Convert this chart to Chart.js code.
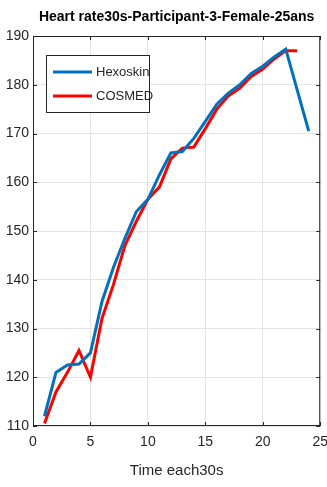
<!DOCTYPE html>
<html lang="en">
<head>
  <meta charset="UTF-8">
  <title>Heart rate chart</title>
  <script src="https://cdn.jsdelivr.net/npm/chart.js"></script>
  <style>
    html, body { margin: 0; padding: 0; background: #fff; overflow: hidden; }
    canvas { display: block; }
  </style>
</head>
<body>
  <canvas id="hrChart" width="336" height="487"></canvas>

  <script>
    // time steps (each 30 s)
    const timeHexo = [1, 2, 3, 4, 5, 6, 7, 8, 9, 10, 11, 12, 13, 14, 15, 16, 17, 18, 19, 20, 21, 22, 23, 24];
    const hexoskin = [112, 121, 122.5, 122.7, 125, 135.5, 142.5, 148.5, 154, 156.5, 161.5, 166, 166.3, 169, 172.5, 176, 178.3, 180, 182.3, 183.8, 185.7, 187.3, 178.9, 170.5];
    const timeCosmed = [1, 2, 3, 4, 5, 6, 7, 8, 9, 10, 11, 12, 13, 14, 15, 16, 17, 18, 19, 20, 21, 22, 23];
    const cosmed = [110.5, 117, 121, 125.5, 120, 132, 139, 147, 152, 156.5, 159, 164.8, 167, 167.2, 171, 175, 177.7, 179.3, 181.7, 183.2, 185.3, 187, 187];
    const xTicks = [0, 5, 10, 15, 20, 25];
    const yTicks = [110, 120, 130, 140, 150, 160, 170, 180, 190];
    const chartTitle = 'Heart rate30s-Participant-3-Female-25ans';

    const FONT = '"Liberation Sans", Arial, sans-serif';

    const toPoints = (xs, ys) => xs.map((x, i) => ({ x: x, y: ys[i] }));

    // box around the axes with inward ticks, like matlab, plus the title centred over the axes
    const boxPlugin = {
      id: 'box',
      afterDraw(chart) {
        const { ctx, chartArea: a, scales } = chart;
        ctx.save();
        ctx.strokeStyle = '#262626';
        ctx.lineWidth = 1;
        ctx.strokeRect(a.left + 0.5, a.top + 0.5, a.right - a.left - 1, a.bottom - a.top - 1);
        ctx.beginPath();
        xTicks.forEach(v => {
          const px = Math.round(scales.x.getPixelForValue(v)) + 0.5;
          ctx.moveTo(px, a.bottom); ctx.lineTo(px, a.bottom - 4);
          ctx.moveTo(px, a.top); ctx.lineTo(px, a.top + 4);
        });
        yTicks.forEach(v => {
          const py = Math.round(scales.y.getPixelForValue(v)) + 0.5;
          ctx.moveTo(a.left, py); ctx.lineTo(a.left + 4, py);
          ctx.moveTo(a.right, py); ctx.lineTo(a.right - 4, py);
        });
        ctx.stroke();

        ctx.fillStyle = '#000';
        ctx.font = 'bold 14px ' + FONT;
        ctx.textAlign = 'center';
        ctx.textBaseline = 'middle';
        ctx.fillText(chartTitle, (a.left + a.right) / 2, 17);
        ctx.restore();
      }
    };

    // legend box in the upper-left corner of the plot
    const legendPlugin = {
      id: 'boxLegend',
      afterDraw(chart) {
        const { ctx, chartArea: a } = chart;
        const x0 = a.left + 13, y0 = a.top + 19, w = 103, h = 57;
        ctx.save();
        ctx.fillStyle = '#fff';
        ctx.fillRect(x0, y0, w, h);
        ctx.strokeStyle = '#262626';
        ctx.lineWidth = 1;
        ctx.strokeRect(x0 + 0.5, y0 + 0.5, w, h);
        ctx.font = '13px ' + FONT;
        ctx.textBaseline = 'middle';
        chart.data.datasets.forEach((ds, i) => {
          const y = y0 + 17 + i * 24;
          ctx.strokeStyle = ds.borderColor;
          ctx.lineWidth = 3;
          ctx.beginPath();
          ctx.moveTo(x0 + 7, y); ctx.lineTo(x0 + 46, y);
          ctx.stroke();
          ctx.fillStyle = '#262626';
          ctx.fillText(ds.label, x0 + 50, y);
        });
        ctx.restore();
      }
    };

    new Chart(document.getElementById('hrChart'), {
      type: 'line',
      data: {
        datasets: [
          {
            label: 'Hexoskin',
            data: toPoints(timeHexo, hexoskin),
            borderColor: '#0072BD',
            borderWidth: 3,
            pointRadius: 0,
            tension: 0
          },
          {
            label: 'COSMED',
            data: toPoints(timeCosmed, cosmed),
            borderColor: '#FF0000',
            borderWidth: 3,
            pointRadius: 0,
            tension: 0
          }
        ]
      },
      options: {
        responsive: false,
        animation: false,
        layout: { padding: { left: 0, right: 0, top: 36, bottom: 0 } },
        plugins: {
          legend: { display: false },
          tooltip: { enabled: false },
          title: { display: false }
        },
        scales: {
          x: {
            type: 'linear',
            min: 0,
            max: 25,
            afterBuildTicks: s => { s.ticks = xTicks.map(v => ({ value: v })); },
            afterFit: s => { s.height = 61; },
            grid: { color: '#e3e3e3', drawTicks: false },
            border: { display: false },
            ticks: {
              color: '#262626',
              font: { family: FONT, size: 14 },
              padding: 8,
              maxRotation: 0
            },
            title: {
              display: true,
              text: 'Time each30s',
              color: '#262626',
              font: { family: FONT, size: 15 },
              padding: { top: 0, bottom: 7 }
            }
          },
          y: {
            min: 110,
            max: 190,
            afterBuildTicks: s => { s.ticks = yTicks.map(v => ({ value: v })); },
            afterFit: s => { s.width = 33; },
            grid: { color: '#e3e3e3', drawTicks: false },
            border: { display: false },
            ticks: {
              color: '#262626',
              font: { family: FONT, size: 14 },
              padding: 4
            }
          }
        }
      },
      plugins: [boxPlugin, legendPlugin]
    });
  </script>
</body>
</html>
